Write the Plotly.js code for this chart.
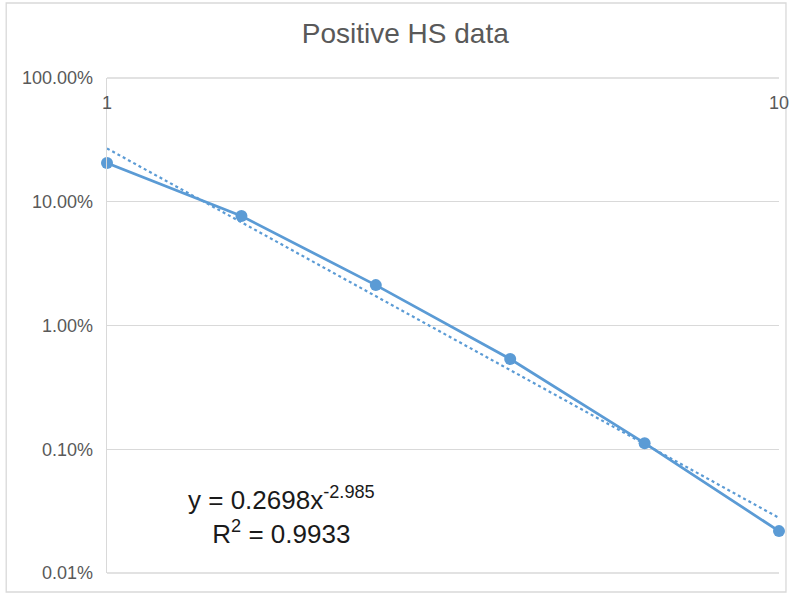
<!DOCTYPE html>
<html>
<head>
<meta charset="utf-8">
<script src="https://cdn.plot.ly/plotly-3.0.1.min.js"></script>
<style>html,body{margin:0;padding:0;background:#fff;}#chart{width:790px;height:596px;}</style>
</head>
<body>
<div id="chart"></div>
<script>
// Data
const xValues = [1, 1.585, 2.512, 3.981, 6.310, 10];
const yValues = [0.206, 0.0767, 0.0212, 0.00536, 0.00112, 0.000218];
// Power trendline endpoints (y = 0.2698 x^-2.985)
const trendX = [1, 10];
const trendY = [0.2698, 0.000279];
const xTickVals = [1, 10];
const xTickText = ['1', '10'];
const yTickVals = [0.0001, 0.001, 0.01, 0.1, 1];
const yTickText = ['0.01%', '0.10%', '1.00%', '10.00%', '100.00%'];
const titleText = 'Positive HS data';
const equationText = 'y = 0.2698x<sup>-2.985</sup><br>R<sup>2</sup> = 0.9933';

const blue = '#5B9BD5';
const grid = '#D9D9D9';
const traces = [
  {
    x: trendX, y: trendY, type: 'scatter', mode: 'lines', cliponaxis: false,
    line: {color: blue, width: 2.2, dash: 'dot'}, hoverinfo: 'skip', showlegend: false
  },
  {
    x: xValues, y: yValues, type: 'scatter', mode: 'lines+markers', cliponaxis: false,
    line: {color: blue, width: 2.75}, marker: {color: blue, size: 12}, showlegend: false
  }
];

const layout = {
  width: 790, height: 596,
  margin: {l: 107, r: 11, t: 78, b: 23},
  paper_bgcolor: '#fff', plot_bgcolor: '#fff',
  font: {family: 'Liberation Sans, Arial, sans-serif', color: '#595959', size: 18},
  title: {text: titleText, x: 0.513, xanchor: 'center', y: 0.944, yanchor: 'middle',
          font: {size: 28, color: '#595959'}},
  xaxis: {
    type: 'log', range: [0, 1], side: 'top',
    tickvals: xTickVals, ticktext: xTickText,
    ticklabelposition: 'inside', ticklabeloverflow: 'allow', ticklabelstandoff: 15,
    showgrid: true, gridcolor: grid, gridwidth: 1.3,
    showline: false, zeroline: false, ticks: '',
    tickfont: {size: 18, color: '#595959'}
  },
  yaxis: {
    type: 'log', range: [-4, 0],
    tickvals: yTickVals, ticktext: yTickText, ticklabelstandoff: 9,
    showgrid: true, gridcolor: grid, gridwidth: 1.3,
    showline: true, linecolor: grid, linewidth: 1.3,
    zeroline: false, ticks: '',
    tickfont: {size: 18, color: '#595959'}
  },
  annotations: [
    {xref: 'paper', yref: 'paper', x: 0.259, y: 0.117, xanchor: 'center', yanchor: 'middle',
     text: equationText, showarrow: false, align: 'center',
     font: {size: 26, color: '#1a1a1a'}}
  ],
  shapes: [
    {type: 'rect', xref: 'paper', yref: 'paper', x0: -0.150, x1: 1.0104, y0: -0.0384, y1: 1.1515,
     line: {color: grid, width: 1.3}, fillcolor: 'rgba(0,0,0,0)', layer: 'below'},
    {type: 'line', xref: 'paper', yref: 'paper', x0: 0, x1: 1, y0: 1, y1: 1,
     line: {color: grid, width: 1.3}, layer: 'above'},
    {type: 'line', xref: 'paper', yref: 'paper', x0: 0, x1: 1, y0: 0, y1: 0,
     line: {color: grid, width: 1.3}, layer: 'above'}
  ]
};

Plotly.newPlot('chart', traces, layout, {displayModeBar: false, staticPlot: true});
</script>
</body>
</html>
